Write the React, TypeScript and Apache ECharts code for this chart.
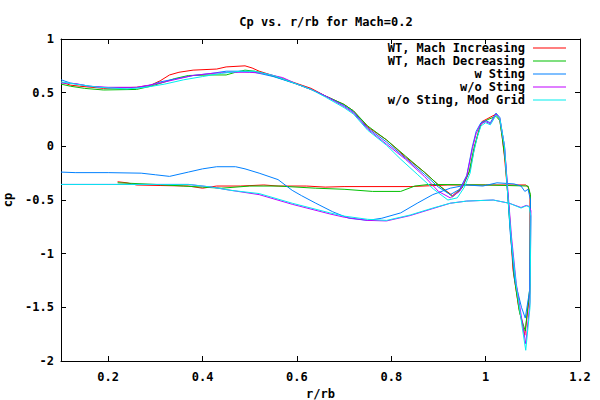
import React, { useEffect, useRef } from "react";
import * as echarts from "echarts";

const seriesNames = [
  "WT, Mach Increasing",
  "WT, Mach Decreasing",
  "w Sting",
  "w/o Sting",
  "w/o Sting, Mod Grid",
];
const seriesColors = ["#ff0000", "#00c000", "#0080ff", "#c000ff", "#00eeee"];

const xTicks = [0.2, 0.4, 0.6, 0.8, 1.0, 1.2];

const wtIncreasing: number[][] = [
  [0.10, 0.60], [0.12, 0.57], [0.14, 0.56], [0.19, 0.54], [0.26, 0.55], [0.29, 0.57],
  [0.31, 0.61], [0.33, 0.665], [0.35, 0.69], [0.38, 0.71], [0.43, 0.72], [0.45, 0.74],
  [0.49, 0.75], [0.505, 0.73], [0.52, 0.70], [0.56, 0.645], [0.59, 0.60], [0.63, 0.54],
  [0.66, 0.47], [0.70, 0.39], [0.72, 0.33], [0.75, 0.18], [0.79, 0.06], [0.83, -0.10],
  [0.87, -0.24], [0.90, -0.36], [0.93, -0.46], [0.95, -0.38], [0.967, -0.22], [0.977, 0.0],
  [0.984, 0.12], [0.992, 0.23], [1.005, 0.26], [1.022, 0.30], [1.03, 0.25], [1.035, 0.09],
  [1.04, -0.10], [1.05, -0.6], [1.058, -1.15], [1.07, -1.5], [1.083, -1.76], [1.094, -1.35],
  [1.094, -0.45], [1.09, -0.38], [1.085, -0.36], [1.0, -0.36], [0.92, -0.36], [0.84, -0.375],
  [0.70, -0.375], [0.66, -0.38], [0.62, -0.37], [0.56, -0.37], [0.53, -0.36], [0.48, -0.37],
  [0.43, -0.37], [0.40, -0.39], [0.37, -0.37], [0.31, -0.365], [0.26, -0.36], [0.24, -0.34],
  [0.22, -0.33],
];

const wtDecreasing: number[][] = [
  [0.10, 0.58], [0.12, 0.56], [0.15, 0.54], [0.19, 0.525], [0.26, 0.53], [0.29, 0.56],
  [0.32, 0.60], [0.34, 0.63], [0.37, 0.66], [0.42, 0.665], [0.45, 0.665], [0.47, 0.69],
  [0.49, 0.71], [0.51, 0.70], [0.53, 0.68], [0.56, 0.64], [0.60, 0.58], [0.63, 0.53],
  [0.66, 0.47], [0.70, 0.39], [0.72, 0.33], [0.75, 0.19], [0.79, 0.06], [0.83, -0.09],
  [0.87, -0.24], [0.90, -0.36], [0.93, -0.47], [0.95, -0.39], [0.965, -0.24], [0.975, -0.02],
  [0.984, 0.12], [0.99, 0.21], [1.005, 0.25], [1.022, 0.28], [1.03, 0.24], [1.036, 0.06],
  [1.042, -0.15], [1.05, -0.65], [1.06, -1.2], [1.072, -1.55], [1.084, -1.72], [1.094, -1.3],
  [1.095, -0.45], [1.09, -0.37], [1.0, -0.36], [0.88, -0.355], [0.85, -0.37], [0.82, -0.42],
  [0.76, -0.42], [0.70, -0.40], [0.64, -0.39], [0.56, -0.37], [0.50, -0.37], [0.44, -0.39],
  [0.40, -0.38], [0.36, -0.37], [0.30, -0.355], [0.25, -0.345], [0.22, -0.34],
];

const wSting: number[][] = [
  [0.10, 0.62], [0.12, 0.59], [0.16, 0.56], [0.20, 0.545], [0.26, 0.545], [0.29, 0.57],
  [0.31, 0.60], [0.35, 0.635], [0.38, 0.66], [0.42, 0.68], [0.45, 0.70], [0.48, 0.70],
  [0.51, 0.69], [0.55, 0.65], [0.60, 0.58], [0.63, 0.53], [0.66, 0.47], [0.70, 0.38],
  [0.72, 0.32], [0.75, 0.17], [0.79, 0.04], [0.83, -0.11], [0.87, -0.26], [0.90, -0.38],
  [0.925, -0.45], [0.945, -0.40], [0.96, -0.27], [0.972, 0.0], [0.98, 0.14], [0.99, 0.22],
  [1.0, 0.24], [1.01, 0.22], [1.022, 0.31], [1.03, 0.27], [1.04, 0.0], [1.045, -0.3],
  [1.052, -0.8], [1.062, -1.25], [1.076, -1.5], [1.084, -1.6], [1.093, -1.35], [1.095, -0.5],
  [1.09, -0.40], [1.083, -0.42], [1.075, -0.37], [1.06, -0.35], [1.024, -0.34], [0.994, -0.37],
  [0.96, -0.36], [0.925, -0.39], [0.888, -0.45], [0.855, -0.53], [0.82, -0.62], [0.78, -0.67],
  [0.75, -0.69], [0.71, -0.67], [0.676, -0.61], [0.64, -0.53], [0.61, -0.46], [0.59, -0.41],
  [0.56, -0.31], [0.52, -0.25], [0.49, -0.21], [0.47, -0.19], [0.43, -0.19], [0.40, -0.21],
  [0.37, -0.24], [0.33, -0.28], [0.30, -0.265], [0.27, -0.25], [0.20, -0.245], [0.13, -0.245],
  [0.10, -0.24],
];

const woSting: number[][] = [
  [0.10, 0.59], [0.13, 0.585], [0.16, 0.56], [0.20, 0.55], [0.26, 0.55], [0.30, 0.58],
  [0.34, 0.62], [0.38, 0.66], [0.42, 0.68], [0.46, 0.69], [0.50, 0.69], [0.53, 0.68],
  [0.57, 0.64], [0.60, 0.58], [0.63, 0.53], [0.66, 0.47], [0.70, 0.37], [0.72, 0.31],
  [0.75, 0.16], [0.79, 0.02], [0.83, -0.12], [0.87, -0.28], [0.90, -0.42], [0.925, -0.48],
  [0.945, -0.42], [0.96, -0.28], [0.972, -0.02], [0.98, 0.12], [0.99, 0.21], [1.0, 0.23],
  [1.01, 0.21], [1.022, 0.30], [1.03, 0.26], [1.04, 0.0], [1.046, -0.35], [1.055, -0.85],
  [1.065, -1.28], [1.078, -1.65], [1.085, -1.84], [1.094, -1.45], [1.096, -0.6], [1.092, -0.56],
  [1.086, -0.55], [1.075, -0.57], [1.05, -0.53], [1.016, -0.50], [0.96, -0.51], [0.925, -0.53],
  [0.888, -0.58], [0.84, -0.645], [0.79, -0.695], [0.75, -0.69], [0.70, -0.66], [0.67, -0.63],
  [0.59, -0.54], [0.52, -0.45], [0.46, -0.41], [0.42, -0.38], [0.37, -0.355], [0.20, -0.355],
  [0.10, -0.355],
];

const woStingModGrid: number[][] = [
  [0.10, 0.60], [0.13, 0.58], [0.18, 0.55], [0.24, 0.535], [0.28, 0.55], [0.32, 0.58],
  [0.36, 0.62], [0.40, 0.65], [0.44, 0.68], [0.48, 0.70], [0.51, 0.70], [0.55, 0.66],
  [0.60, 0.58], [0.63, 0.53], [0.66, 0.46], [0.70, 0.36], [0.72, 0.30], [0.75, 0.15],
  [0.79, 0.01], [0.82, -0.12], [0.855, -0.26], [0.89, -0.40], [0.92, -0.50], [0.94, -0.48],
  [0.955, -0.38], [0.967, -0.25], [0.975, -0.05], [0.982, 0.08], [0.99, 0.19], [1.0, 0.22],
  [1.01, 0.20], [1.022, 0.29], [1.03, 0.26], [1.04, 0.0], [1.046, -0.4], [1.055, -0.9],
  [1.065, -1.3], [1.078, -1.7], [1.085, -1.90], [1.094, -1.5], [1.096, -0.65], [1.092, -0.56],
  [1.086, -0.555], [1.075, -0.575], [1.05, -0.53], [1.016, -0.50], [0.96, -0.51], [0.925, -0.53],
  [0.888, -0.575], [0.84, -0.64], [0.79, -0.69], [0.75, -0.68], [0.70, -0.65], [0.67, -0.62],
  [0.59, -0.53], [0.52, -0.44], [0.46, -0.41], [0.42, -0.38], [0.37, -0.355], [0.20, -0.355],
  [0.10, -0.355],
];

const allData = [wtIncreasing, wtDecreasing, wSting, woSting, woStingModGrid];

const FONT = "DejaVu Sans Mono";
const textStyle = { fontFamily: FONT, fontSize: 12, fontWeight: "bold" as const, color: "#000" };
const legendRowCenters = [49, 62, 75, 88, 101];

export default function App() {
  const ref = useRef<HTMLDivElement>(null);
  useEffect(() => {
    if (!ref.current) return;
    const chart = echarts.init(ref.current, null, { renderer: "svg" });
    const axisLine = { show: true, onZero: false, lineStyle: { color: "#000", width: 1 } };
    chart.setOption({
      animation: false,
      backgroundColor: "#fff",
      title: {
        text: "Cp vs. r/rb for Mach=0.2",
        left: 321,
        top: 11,
        textAlign: "center",
        textStyle: { ...textStyle },
      },
      legend: seriesNames.map((name, i) => ({
        data: [{ name, icon: "rect", itemStyle: { color: seriesColors[i] } }],
        right: 34,
        top: legendRowCenters[i] - 7,
        align: "right",
        orient: "vertical",
        itemWidth: 33,
        itemHeight: 1,
        itemGap: 0,
        padding: 0,
        selectedMode: false,
        textStyle: { ...textStyle, padding: [0, 3, 0, 0] },
      })),
      grid: { left: 61, right: 20, top: 39, bottom: 39, containLabel: false, outerBoundsMode: "none" },
      xAxis: [
        {
          type: "value",
          min: 0.1,
          max: 1.2,
          name: "r/rb",
          nameLocation: "middle",
          nameGap: 25,
          nameTextStyle: { ...textStyle },
          axisLine,
          axisTick: { show: true, inside: true, length: 5, customValues: xTicks, lineStyle: { color: "#000" } },
          axisLabel: {
            customValues: xTicks,
            margin: 10,
            ...textStyle,
            formatter: (v: number) => String(Number(v.toFixed(2))),
          },
          splitLine: { show: false },
        },
        {
          type: "value",
          position: "top",
          min: 0.1,
          max: 1.2,
          axisLine,
          axisTick: { show: true, inside: true, length: 5, customValues: xTicks, lineStyle: { color: "#000" } },
          axisLabel: { show: false },
          splitLine: { show: false },
        },
      ],
      yAxis: [
        {
          type: "value",
          min: -2,
          max: 1,
          interval: 0.5,
          name: "cp",
          nameLocation: "middle",
          nameGap: 43,
          nameRotate: 90,
          nameTextStyle: { ...textStyle },
          axisLine,
          axisTick: { show: true, inside: true, length: 5, lineStyle: { color: "#000" } },
          axisLabel: { margin: 7, ...textStyle },
          splitLine: { show: false },
        },
        {
          type: "value",
          position: "right",
          min: -2,
          max: 1,
          interval: 0.5,
          axisLine,
          axisTick: { show: true, inside: true, length: 5, lineStyle: { color: "#000" } },
          axisLabel: { show: false },
          splitLine: { show: false },
        },
      ],
      series: seriesNames.map((name, i) => ({
        name,
        type: "line",
        xAxisIndex: 0,
        yAxisIndex: 0,
        data: allData[i],
        symbol: "none",
        showSymbol: false,
        color: seriesColors[i],
        lineStyle: { color: seriesColors[i], width: 1 },
        clip: true,
      })),
    });
    return () => chart.dispose();
  }, []);
  return (
    <div
      ref={ref}
      style={{ position: "fixed", left: 0, top: 0, width: 600, height: 400 }}
    />
  );
}
